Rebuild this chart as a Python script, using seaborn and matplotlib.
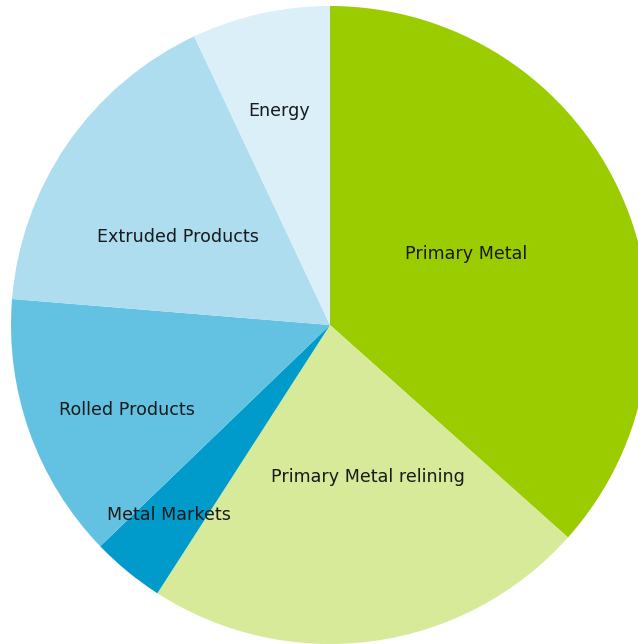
import numpy as np
import matplotlib
matplotlib.use("Agg")
import matplotlib.pyplot as plt
import seaborn as sns

# Share of activity by business area (%)
segments = ["Primary Metal", "Primary Metal relining", "Metal Markets",
            "Rolled Products", "Extruded Products", "Energy"]
shares = [36.6, 22.5, 3.7, 13.5, 16.7, 7.0]

colors = ["#9BCC00", "#D6EA9A", "#009BCB", "#63C2E2", "#ADDDEE", "#DAEFF7"]
# label placement: radial fraction and angular nudge (degrees) from the wedge middle
label_r = [0.48, 0.49, 0.78, 0.69, 0.55, 0.69]
label_dang = [3.3, 6.4, -0.9, 3.0, 4.5, 0.7]

sns.set_theme(style="white")
plt.rcParams["font.family"] = ["DejaVu Sans"]

fig = plt.figure(figsize=(6.38, 6.44), dpi=100)
ax = fig.add_axes([0, 0, 1, 1])
R = 319.0
cx, cy = 330.0, 325.0
W, H = 638.0, 644.0

wedges, _ = ax.pie(shares, colors=colors, startangle=90, counterclock=False,
                   radius=1.0, wedgeprops=dict(linewidth=0, edgecolor="none"))

for w, name, r, da in zip(wedges, segments, label_r, label_dang):
    mid = np.deg2rad((w.theta1 + w.theta2) / 2 + da)
    ax.text(r * np.cos(mid), r * np.sin(mid), name, ha="center", va="center",
            fontsize=12.6, color="#1a1a1a")

ax.set_xlim(-cx / R, (W - cx) / R)
ax.set_ylim(-(H - cy) / R, cy / R)
ax.set_aspect("auto")
ax.axis("off")

fig.savefig("out.png", dpi=100, facecolor="white")
